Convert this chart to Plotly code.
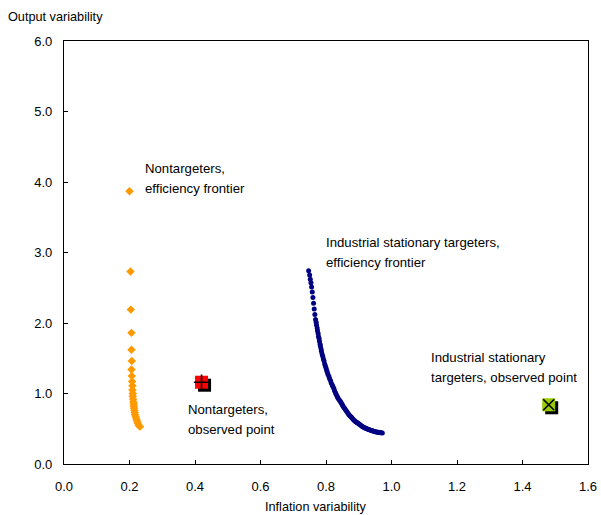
import plotly.graph_objects as go

# Nontargeters, efficiency frontier
nt_x = [0.200, 0.203, 0.204, 0.206, 0.206, 0.207, 0.206, 0.207, 0.208, 0.209, 0.209,
        0.210, 0.210, 0.211, 0.212, 0.213, 0.213, 0.214, 0.215, 0.216, 0.217, 0.219,
        0.221, 0.223, 0.225, 0.228, 0.232]
nt_y = [3.87, 2.73, 2.19, 1.86, 1.62, 1.46, 1.34, 1.25, 1.17, 1.11, 1.05,
        1.00, 0.96, 0.92, 0.88, 0.85, 0.82, 0.79, 0.76, 0.73, 0.70, 0.67,
        0.64, 0.61, 0.58, 0.55, 0.53]

# Industrial stationary targeters, efficiency frontier
it_x = [0.747, 0.750, 0.752, 0.754, 0.756, 0.758, 0.760, 0.762, 0.764, 0.766, 0.768,
        0.770, 0.771, 0.773, 0.774, 0.776, 0.777, 0.779, 0.780, 0.782, 0.783, 0.785,
        0.786, 0.788, 0.790, 0.792, 0.794, 0.796, 0.798, 0.800, 0.802, 0.804, 0.806,
        0.809, 0.811, 0.814, 0.816, 0.819, 0.821, 0.824, 0.826, 0.829, 0.831, 0.834,
        0.836, 0.839, 0.842, 0.845, 0.847, 0.850, 0.852, 0.855, 0.858, 0.861, 0.864,
        0.867, 0.870, 0.873, 0.876, 0.879, 0.882, 0.885, 0.888, 0.891, 0.894, 0.897,
        0.900, 0.903, 0.906, 0.909, 0.912, 0.915, 0.918, 0.921, 0.924, 0.927, 0.930,
        0.933, 0.936, 0.939, 0.942, 0.945, 0.948, 0.951, 0.954, 0.957, 0.960, 0.963,
        0.966, 0.969, 0.972]
it_y = [2.74, 2.68, 2.62, 2.57, 2.51, 2.44, 2.36, 2.28, 2.20, 2.12, 2.05,
        2.01, 1.97, 1.93, 1.89, 1.85, 1.81, 1.78, 1.74, 1.70, 1.67, 1.63,
        1.60, 1.56, 1.53, 1.49, 1.46, 1.42, 1.39, 1.36, 1.33, 1.30, 1.27,
        1.24, 1.21, 1.18, 1.15, 1.12, 1.10, 1.07, 1.04, 1.01, 0.99, 0.96,
        0.94, 0.92, 0.90, 0.88, 0.86, 0.84, 0.82, 0.80, 0.78, 0.76, 0.74,
        0.72, 0.70, 0.685, 0.67, 0.655, 0.64, 0.625, 0.61, 0.60, 0.59, 0.58,
        0.57, 0.56, 0.55, 0.54, 0.53, 0.522, 0.515, 0.508, 0.50, 0.495, 0.49,
        0.485, 0.48, 0.475, 0.47, 0.466, 0.462, 0.458, 0.455, 0.452, 0.45, 0.447,
        0.445, 0.442, 0.44]

# Observed points
obs_nt = (0.42, 1.16)
obs_it = (1.48, 0.84)

x_ticks = [0.0, 0.2, 0.4, 0.6, 0.8, 1.0, 1.2, 1.4, 1.6]
y_ticks = [0.0, 1.0, 2.0, 3.0, 4.0, 5.0, 6.0]

FONT = "Liberation Sans, Arial, sans-serif"

fig = go.Figure()

fig.add_trace(go.Scatter(x=nt_x, y=nt_y, mode="markers",
                         marker=dict(symbol="diamond", size=6.5, color="#FF9900", line=dict(width=0))))
fig.add_trace(go.Scatter(x=it_x, y=it_y, mode="markers",
                         marker=dict(symbol="circle", size=5, color="#000080", line=dict(width=0))))

# shadows of observed points
shapes = []
for (px, py) in [obs_nt, obs_it]:
    shapes.append(dict(type="rect", xref="x", yref="y", xsizemode="pixel", ysizemode="pixel",
                       xanchor=px, yanchor=py, x0=-3.5, x1=9.5, y0=-9.5, y1=3.5,
                       fillcolor="black", line=dict(width=0), layer="below"))

fig.add_trace(go.Scatter(x=[obs_nt[0]], y=[obs_nt[1]], mode="markers",
                         marker=dict(symbol="square", size=13, color="#FF0000", line=dict(width=0))))
fig.add_trace(go.Scatter(x=[obs_nt[0]], y=[obs_nt[1]], mode="markers",
                         marker=dict(symbol="cross-thin", size=11, line=dict(width=1.6, color="black"))))
fig.add_trace(go.Scatter(x=[obs_it[0]], y=[obs_it[1]], mode="markers",
                         marker=dict(symbol="square", size=13, color="#99CC00", line=dict(width=0))))
fig.add_trace(go.Scatter(x=[obs_it[0]], y=[obs_it[1]], mode="markers",
                         marker=dict(symbol="x-thin", size=11, line=dict(width=1.6, color="black"))))

labels = [
    (0.241, 4.19, ["Nontargeters,", "efficiency frontier"]),
    (0.793, 3.14, ["Industrial stationary targeters,", "efficiency frontier"]),
    (0.372, 0.77, ["Nontargeters,", "observed point"]),
    (1.113, 1.51, ["Industrial stationary", "targeters, observed point"]),
]
annotations = []
for (lx, ly, lines) in labels:
    for i, t in enumerate(lines):
        annotations.append(dict(x=lx, y=ly, xref="x", yref="y", text=t, showarrow=False,
                                xanchor="left", yanchor="middle", yshift=-20 * i,
                                font=dict(family=FONT, size=13.2, color="black")))

annotations.append(dict(x=(6 - 64) / 524, y=1.0, xref="paper", yref="paper", text="Output variability",
                        showarrow=False, xanchor="left", yanchor="middle", yshift=24,
                        font=dict(family=FONT, size=12.7, color="black")))
annotations.append(dict(x=0.5, y=0.0, xref="paper", yref="paper", text="Inflation variability",
                        showarrow=False, xanchor="center", yanchor="middle", yshift=-43,
                        xshift=-10,
                        font=dict(family=FONT, size=12.7, color="black")))

fig.update_layout(
    width=601, height=515,
    margin=dict(l=64, r=13, t=41, b=51, autoexpand=False),
    plot_bgcolor="white", paper_bgcolor="white",
    showlegend=False,
    shapes=shapes,
    annotations=annotations,
    font=dict(family=FONT, size=13, color="black"),
)
fig.update_xaxes(range=[0, 1.6], tickvals=x_ticks, ticktext=[f"{v:.1f}" for v in x_ticks],
                 showgrid=False, zeroline=False, showline=True, linecolor="black", linewidth=1.3,
                 mirror=True, ticks="inside", ticklen=4, tickcolor="black", ticklabelstandoff=10,
                 automargin=False)
fig.update_yaxes(range=[0, 6.0], tickvals=y_ticks, ticktext=[f"{v:.1f}" for v in y_ticks],
                 showgrid=False, zeroline=False, showline=True, linecolor="black", linewidth=1.3,
                 mirror=True, ticks="inside", ticklen=4, tickcolor="black", ticklabelstandoff=8,
                 automargin=False)

fig.write_html("out.html")
